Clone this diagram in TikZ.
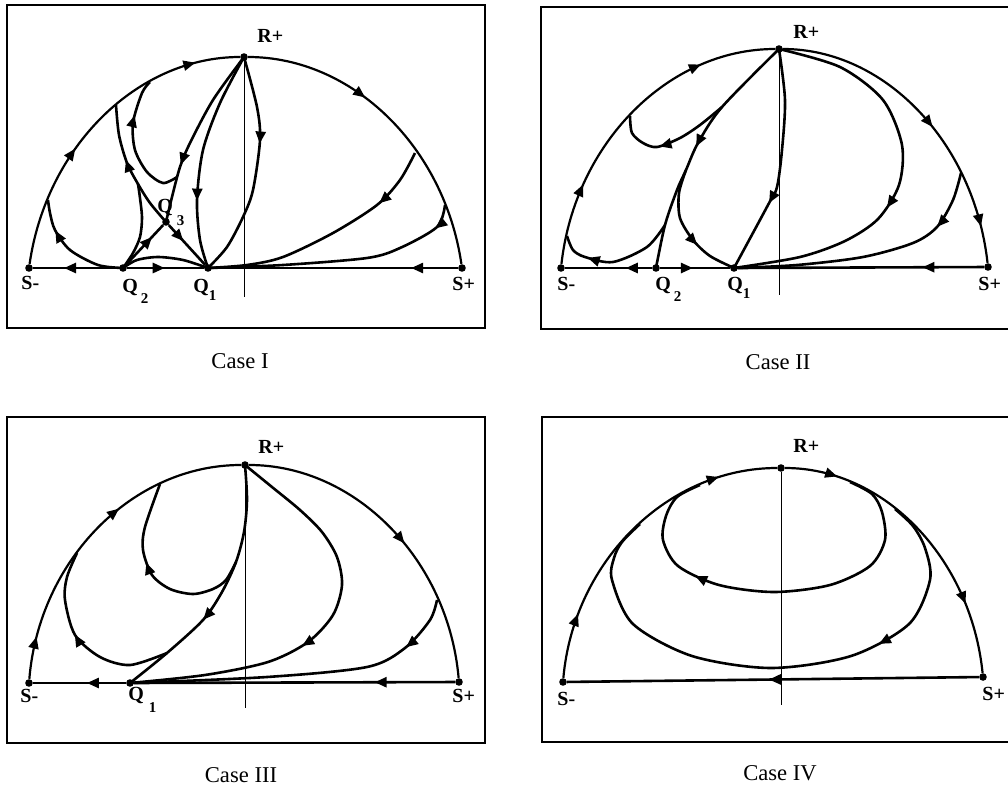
\documentclass[tikz,border=0pt]{standalone}
\usepackage{fontspec}
\setmainfont{Liberation Serif}
\usetikzlibrary{arrows.meta,decorations.markings}

\begin{document}
\begin{tikzpicture}[
  x=0.5pt, y=-0.5pt,
  panel/.style   = {draw, line width=0.85pt},
  rim/.style     = {line width=1.1pt},
  orbit/.style   = {line width=1.3pt},
  vaxis/.style   = {line width=0.45pt},
  eqpt/.style    = {circle, fill, inner sep=0pt, minimum size=3.8pt},
  lbl/.style     = {font=\fontsize{10}{12}\selectfont\bfseries,
                    inner sep=0pt, anchor=base west},
  casecap/.style = {font=\fontsize{11.3}{13}\selectfont, inner sep=0pt,
                    anchor=base},
  flowat/.style  = {postaction={decorate, decoration={markings,
                    mark=at position #1 with
                    {\arrow{Triangle[length=6pt,width=5pt]}}}}},
]

\useasboundingbox (0,0) rectangle (1008,788);
\clip (0,0) rectangle (1008,788);

%% ==== Case I ==============================================================
\draw[panel] (7,5) rectangle (485,328);
\node[eqpt] (aSm) at (29,268)  {};
\node[eqpt] (aQ2) at (123,268) {};
\node[eqpt] (aQ1) at (208,268) {};
\node[eqpt] (aSp) at (462,268) {};
\node[eqpt] (aR)  at (244,57)  {};
\node[eqpt] (aQ3) at (166,222) {};
\coordinate (aAx) at (244,297);
\coordinate (aB1) at (116,105);
\coordinate (aB2) at (150,82);
\coordinate (aB3) at (48,200);
\coordinate (aB4) at (415,153);
\coordinate (aB5) at (445,205);
\coordinate (aJ1) at (138,184);
\coordinate (aJ2) at (177,177);

\draw[rim, flowat=0.39, flowat=0.86]
  (aSm) .. controls +(17.7,-121.8) and +(-106.4,0) .. (aR);
\draw[rim, flowat=0.39]
  (aR) .. controls +(107.9,0) and +(-17.9,-121.8) .. (aSp);
\draw[orbit, flowat=0.64] (aQ2) -- (aSm);
\draw[orbit, flowat=0.49] (aQ2) -- (aQ1);
\draw[orbit, flowat=0.19] (aSp) -- (aQ1);
\draw[vaxis] (aR) -- (aAx);

\draw[orbit, flowat=0.39] plot[smooth] coordinates
  {(aR) (257,107) (260,140) (253,190) (243,217) (227,247) (aQ1)};
\draw[orbit, flowat=0.69] plot[smooth] coordinates
  {(aR) (220,103) (203,150) (197,200) (200,240) (aQ1)};
\draw[orbit, flowat=0.68] plot[smooth] coordinates
  {(aR) (213,100) (190,143) (180,167) (172,197) (aQ3)};
\draw[orbit, flowat=0.7] (aQ2) -- (aQ3);
\draw[orbit, flowat=0.4] (aQ3) -- (aQ1);
\draw[orbit, flowat=0.57] plot[smooth] coordinates
  {(aQ3) (150,203) (aJ1) (127,163) (119,135) (aB1)};
\draw[orbit] plot[smooth] coordinates
  {(aQ2) (133,253) (140,237) (142,218) (140,198) (aJ1)};
\draw[orbit, flowat=0.72] plot[smooth] coordinates
  {(aJ2) (163,183) (147,172) (135,150) (133,123) (142,93) (aB2)};
\draw[orbit, flowat=0.72] plot[smooth] coordinates
  {(aQ2) (98,265) (70,250) (55,230) (50,213) (aB3)};
\draw[orbit] plot[smooth] coordinates
  {(aQ2) (137,260) (158,257) (183,260) (aQ1)};
\draw[orbit, flowat=0.25] plot[smooth] coordinates
  {(aB4) (400,180) (377,205) (333,233) (283,257) (247,265) (aQ1)};
\draw[orbit, flowat=0.1] plot[smooth] coordinates
  {(aB5) (437,227) (400,248) (367,258) (283,265) (aQ1)};

\node[lbl] (aRl)  at (257,42)  {R+};
\node[lbl] (aSml) at (21,289)  {S-};
\node[lbl] (aSpl) at (452,290) {S+};
\node[lbl] (aQ2l) at (122,292)
  {Q\hspace{1.5pt}\raisebox{-5.5pt}{\fontsize{7.5}{8}\selectfont 2}};
\node[lbl] (aQ1l) at (193,292)
  {Q\raisebox{-4pt}{\fontsize{7.5}{8}\selectfont 1}};
\node[lbl] (aQ3l) at (157,212)
  {Q\hspace{2pt}\raisebox{-6.5pt}{\fontsize{7.5}{8}\selectfont 3}};
\node[casecap] (capA) at (240,368) {Case I};

%% ==== Case II =============================================================
\draw[panel] (541,7) rectangle (1015,329);
\node[eqpt] (bSm) at (561,268) {};
\node[eqpt] (bQ2) at (656,268) {};
\node[eqpt] (bQ1) at (734,268) {};
\node[eqpt] (bSp) at (988,267) {};
\node[eqpt] (bR)  at (779,49)  {};
\coordinate (bAx) at (779,295);
\coordinate (bB1) at (630,116);
\coordinate (bB2) at (567,236);
\coordinate (bB3) at (961,173);
\coordinate (bJ1) at (686,170);
\coordinate (bJ2) at (722,107);
\coordinate (bJ3) at (665,225);

\draw[rim, flowat=0.25, flowat=0.77]
  (bSm) .. controls +(14.1,-125.2) and +(-110.5,0) .. (bR);
\draw[rim, flowat=0.54, flowat=0.885]
  (bR) .. controls +(105.7,0) and +(-13.9,-124.8) .. (bSp);
\draw[orbit, flowat=0.3]  (bQ2) -- (bSm);
\draw[orbit, flowat=0.47] (bQ2) -- (bQ1);
\draw[orbit, flowat=0.25] (bSp) -- (bQ1);
\draw[vaxis] (bR) -- (bAx);

\draw[orbit, flowat=0.68] plot[smooth] coordinates
  {(bR) (785,100) (782,150) (777,187) (768,205) (bQ1)};
\draw[orbit, flowat=0.5] plot[smooth] coordinates
  {(bR) (bJ2) (698,143) (bJ1) (677,190) (bJ3) (bQ2)};
\draw[orbit, flowat=0.65] plot[smooth] coordinates
  {(bJ1) (679,193) (680,218) (693,240) (710,256) (bQ1)};
\draw[orbit, flowat=0.6] plot[smooth] coordinates
  {(bJ2) (700,125) (680,138) (657,147) (643,143) (632,133) (bB1)};
\draw[orbit, flowat=0.74] plot[smooth] coordinates
  {(bJ3) (647,247) (613,262) (585,257) (573,250) (bB2)};
\draw[orbit, flowat=0.58] plot[smooth] coordinates
  {(bR) (840,67) (883,100) (902,145) (899,185) (878,219) (845,241)
   (800,257) (bQ1)};
\draw[orbit, flowat=0.22] plot[smooth] coordinates
  {(bB3) (953,200) (937,227) (913,243) (863,257) (797,265) (bQ1)};

\node[lbl] (bRl)  at (793,38)  {R+};
\node[lbl] (bSml) at (557,290) {S-};
\node[lbl] (bSpl) at (978,290) {S+};
\node[lbl] (bQ2l) at (655,290)
  {Q\hspace{1.5pt}\raisebox{-5.5pt}{\fontsize{7.5}{8}\selectfont 2}};
\node[lbl] (bQ1l) at (727,290)
  {Q\raisebox{-4pt}{\fontsize{7.5}{8}\selectfont 1}};
\node[casecap] (capB) at (778,369) {Case II};

%% ==== Case III ============================================================
\draw[panel] (7,417) rectangle (485,743);
\node[eqpt] (cSm) at (29,683)  {};
\node[eqpt] (cQ1) at (130,683) {};
\node[eqpt] (cSp) at (459,682) {};
\node[eqpt] (cR)  at (245,465) {};
\coordinate (cAx) at (245,708);
\coordinate (cB1) at (160,484);
\coordinate (cB2) at (77,553);
\coordinate (cB3) at (437,600);
\coordinate (cJ1) at (236,562);
\coordinate (cJ2) at (167,653);

\draw[rim, flowat=0.13, flowat=0.6]
  (cSm) .. controls +(10.3,-123.5) and +(-112.1,0) .. (cR);
\draw[rim, flowat=0.55]
  (cR) .. controls +(110.5,0) and +(-11.0,-122.6) .. (cSp);
\draw[orbit, flowat=0.42] (cQ1) -- (cSm);
\draw[orbit, flowat=0.25] (cSp) -- (cQ1);
\draw[vaxis] (cR) -- (cAx);

\draw[orbit, flowat=0.63] plot[smooth] coordinates
  {(cR) (247,500) (244,532) (cJ1) (222,592) (203,620) (cJ2) (cQ1)};
\draw[orbit, flowat=0.59] plot[smooth] coordinates
  {(cJ1) (226,580) (213,589) (193,594) (170,589) (152,575) (143,550)
   (145,527) (cB1)};
\draw[orbit, flowat=0.55] plot[smooth] coordinates
  {(cJ2) (130,665) (100,657) (75,635) (65,600) (67,577) (cB2)};
\draw[orbit, flowat=0.57] plot[smooth] coordinates
  {(cR) (272,487) (300,510) (322,532) (337,557) (342,585) (333,615)
   (308,642) (268,662) (205,675) (cQ1)};
\draw[orbit, flowat=0.17] plot[smooth] coordinates
  {(cB3) (430,620) (405,648) (367,667) (267,677) (cQ1)};

\node[lbl] (cRl)  at (258,453) {R+};
\node[lbl] (cSml) at (20,702)  {S-};
\node[lbl] (cSpl) at (452,702) {S+};
\node[lbl] (cQ1l) at (128,700)
  {Q\hspace{2.5pt}\raisebox{-6pt}{\fontsize{7.5}{8}\selectfont 1}};
\node[casecap] (capC) at (241,782) {Case III};

%% ==== Case IV =============================================================
\draw[panel] (542,417) rectangle (1015,742);
\node[eqpt] (dSm) at (563,682) {};
\node[eqpt] (dSp) at (983,677) {};
\node[eqpt] (dR)  at (781,468) {};
\coordinate (dAx) at (781,705);
\coordinate (dB1) at (850,482);
\coordinate (dB2) at (700,485);
\coordinate (dB3) at (895,509);
\coordinate (dB4) at (640,524);

\draw[rim, flowat=0.2, flowat=0.82]
  (dSm) .. controls +(10.9,-121.4) and +(-112.7,0) .. (dR);
\draw[rim, flowat=0.17, flowat=0.77]
  (dR) .. controls +(103.0,0) and +(-12.2,-119.2) .. (dSp);
\draw[orbit, flowat=0.51] (dSp) -- (dSm);
\draw[vaxis] (dR) -- (dAx);

\draw[orbit, flowat=0.7] plot[smooth] coordinates
  {(dB1) (872,494) (882,512) (885,540) (870,566) (830,585) (774,592)
   (719,585) (678,566) (663,540) (666,516) (677,497) (dB2)};
\draw[orbit, flowat=0.31] plot[smooth] coordinates
  {(dB3) (913,526) (925,548) (930,580) (909,624) (851,656) (771,668)
   (692,656) (633,624) (612,580) (614,558) (622,542) (dB4)};

\node[lbl] (dRl)  at (793,452) {R+};
\node[lbl] (dSml) at (557,705) {S-};
\node[lbl] (dSpl) at (982,700) {S+};
\node[casecap] (capD) at (780,780) {Case IV};

\end{tikzpicture}
\end{document}
